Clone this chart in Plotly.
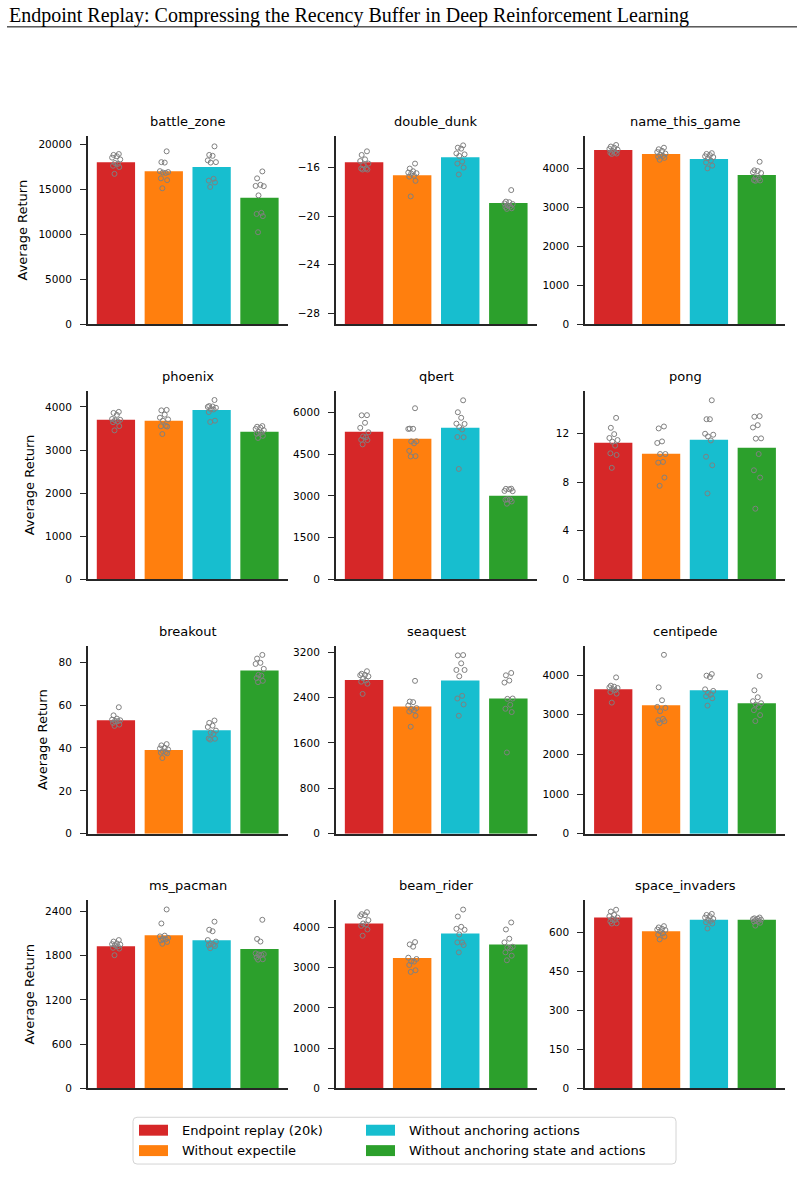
import plotly.graph_objects as go

W, H = 804, 1178

GAMES = ["battle_zone", "double_dunk", "name_this_game",
         "phoenix", "qbert", "pong",
         "breakout", "seaquest", "centipede",
         "ms_pacman", "beam_rider", "space_invaders"]
METHODS = ["Endpoint replay (20k)", "Without expectile",
           "Without anchoring actions", "Without anchoring state and actions"]
COLORS = ["#d62728", "#ff7f0e", "#17becf", "#2ca02c"]

# ---- bar heights (mean return per method) ----
battle_zone_means = [18000, 17000, 17450, 14050]
double_dunk_means = [-15.56, -16.63, -15.15, -18.92]
name_this_game_means = [4468, 4366, 4238, 3830]
phoenix_means = [3700, 3677, 3931, 3423]
qbert_means = [5308, 5058, 5451, 3006]
pong_means = [11.26, 10.36, 11.51, 10.85]
breakout_means = [52.9, 39.0, 48.3, 76.1]
seaquest_means = [2711, 2244, 2700, 2384]
centipede_means = [3640, 3238, 3615, 3289]
ms_pacman_means = [1928, 2076, 2009, 1888]
beam_rider_means = [4099, 3241, 3852, 3579]
space_invaders_means = [656, 603, 648, 648]

# ---- individual runs (one list per method) ----
battle_zone_runs = [
    [18900, 18800, 18650, 18500, 18300, 17900, 17800, 17600, 17450, 16700],
    [19200, 18000, 17950, 17000, 16900, 16850, 16800, 16200, 16000, 15100],
    [19750, 18800, 18700, 18200, 18000, 17950, 16150, 15950, 15750, 15250],
    [16970, 16200, 15480, 15360, 15330, 14310, 12370, 12250, 12010, 10220]]
double_dunk_runs = [
    [-14.66, -14.96, -15.32, -15.46, -15.67, -15.81, -16.08, -16.08, -16.16, -16.16],
    [-15.67, -16.08, -16.3, -16.41, -16.46, -16.5, -16.68, -16.74, -17.09, -18.37],
    [-14.17, -14.36, -14.44, -14.83, -14.91, -15.04, -15.51, -15.67, -16.0, -16.57],
    [-17.85, -18.8, -18.85, -18.95, -19.0, -19.1, -19.2, -19.25, -19.35, -19.4]]
name_this_game_runs = [
    [4600, 4560, 4530, 4500, 4480, 4450, 4420, 4400, 4380, 4370],
    [4530, 4490, 4450, 4420, 4380, 4350, 4320, 4300, 4270, 4220],
    [4390, 4370, 4340, 4310, 4290, 4260, 4200, 4150, 4070, 4000],
    [4170, 3950, 3930, 3900, 3880, 3770, 3740, 3700, 3690, 3680]]
phoenix_runs = [
    [3885, 3860, 3815, 3720, 3700, 3690, 3660, 3645, 3555, 3455],
    [3930, 3920, 3820, 3750, 3710, 3680, 3560, 3550, 3545, 3370],
    [4160, 4020, 4010, 4000, 3980, 3950, 3940, 3880, 3680, 3650],
    [3555, 3540, 3520, 3490, 3460, 3420, 3400, 3380, 3330, 3280]]
qbert_runs = [
    [5905, 5900, 5630, 5450, 5290, 5140, 5110, 5020, 5010, 4855],
    [6155, 5420, 5415, 5410, 4965, 4960, 4890, 4620, 4430, 4420],
    [6440, 6010, 5810, 5600, 5590, 5475, 5390, 5120, 5110, 3970],
    [3260, 3255, 3240, 3180, 3170, 2880, 2870, 2860, 2800, 2720]]
pong_runs = [
    [13.31, 12.49, 11.97, 11.65, 11.48, 11.35, 11.02, 10.39, 10.25, 9.19],
    [12.6, 12.44, 11.37, 11.24, 10.33, 10.33, 9.68, 9.62, 8.39, 7.71],
    [14.76, 13.2, 13.2, 12.0, 11.92, 11.78, 11.45, 10.11, 9.4, 7.08],
    [13.45, 13.4, 12.71, 12.52, 11.62, 11.6, 10.33, 8.99, 8.39, 5.82]]
breakout_runs = [
    [59.0, 55.2, 53.7, 53.2, 52.9, 52.6, 52.5, 51.7, 50.9, 50.3],
    [41.8, 41.2, 40.1, 39.8, 39.3, 38.5, 38.1, 37.8, 37.5, 35.3],
    [52.8, 51.7, 50.4, 49.8, 48.1, 47.2, 46.6, 44.4, 44.3, 43.9],
    [83.4, 81.7, 79.7, 79.2, 76.9, 74.1, 73.7, 72.6, 71.3, 70.7]]
seaquest_runs = [
    [2865, 2820, 2800, 2795, 2775, 2740, 2700, 2680, 2645, 2465],
    [2695, 2330, 2320, 2260, 2215, 2200, 2175, 2155, 2080, 1887],
    [3150, 3144, 3004, 2887, 2887, 2776, 2431, 2384, 2279, 2080],
    [2834, 2793, 2700, 2665, 2384, 2378, 2273, 2203, 2145, 1432]]
centipede_runs = [
    [3941, 3732, 3707, 3690, 3674, 3649, 3615, 3573, 3531, 3305],
    [4510, 3690, 3364, 3197, 3172, 3088, 2895, 2862, 2837, 2787],
    [4025, 3985, 3950, 3640, 3600, 3550, 3505, 3465, 3415, 3230],
    [3975, 3615, 3440, 3340, 3290, 3255, 3200, 3115, 2990, 2840]]
ms_pacman_runs = [
    [2010, 1990, 1965, 1955, 1950, 1940, 1925, 1905, 1895, 1805],
    [2425, 2235, 2070, 2060, 2040, 2030, 2020, 2005, 1985, 1960],
    [2260, 2150, 2130, 2010, 1990, 1960, 1950, 1940, 1930, 1900],
    [2285, 2025, 1990, 1830, 1820, 1815, 1810, 1775, 1750, 1745]]
beam_rider_runs = [
    [4379, 4330, 4305, 4280, 4181, 4099, 4074, 4041, 3950, 3794],
    [3637, 3579, 3522, 3249, 3216, 3159, 3151, 3068, 2936, 2895],
    [4445, 4272, 4016, 3967, 3942, 3827, 3629, 3629, 3563, 3381],
    [4124, 3950, 3720, 3629, 3522, 3497, 3480, 3381, 3299, 3184]]
space_invaders_runs = [
    [686, 679, 666, 661, 656, 651, 647, 641, 634, 633],
    [623, 618, 613, 610, 608, 603, 595, 590, 583, 572],
    [670, 666, 661, 656, 651, 647, 643, 638, 633, 614],
    [656, 653, 651, 650, 648, 646, 643, 641, 636, 625]]

# fixed horizontal spread of the run markers around each bar
JITTER = [0.06, -0.05, 0.02, -0.08, 0.09, -0.02, 0.04, -0.06, 0.07, -0.03]

MEANS = [battle_zone_means, double_dunk_means, name_this_game_means,
         phoenix_means, qbert_means, pong_means,
         breakout_means, seaquest_means, centipede_means,
         ms_pacman_means, beam_rider_means, space_invaders_means]
RUNS = [battle_zone_runs, double_dunk_runs, name_this_game_runs,
        phoenix_runs, qbert_runs, pong_runs,
        breakout_runs, seaquest_runs, centipede_runs,
        ms_pacman_runs, beam_rider_runs, space_invaders_runs]

# ---- axis settings (layout) ----
Y_RANGE = {"battle_zone": (0, 20900), "double_dunk": (-28.9, -13.4),
           "name_this_game": (0, 4830), "phoenix": (0, 4376),
           "qbert": (0, 6785), "pong": (0, 15.55), "breakout": (0, 87.7),
           "seaquest": (0, 3315), "centipede": (0, 4740),
           "ms_pacman": (0, 2552), "beam_rider": (0, 4680),
           "space_invaders": (0, 723)}
Y_DTICK = {"battle_zone": 5000, "double_dunk": 4, "name_this_game": 1000,
           "phoenix": 1000, "qbert": 1500, "pong": 4, "breakout": 20,
           "seaquest": 800, "centipede": 1000, "ms_pacman": 600,
           "beam_rider": 1000, "space_invaders": 150}

COL_PX = [(87.7, 287.7), (335.7, 536.7), (585.0, 785.0)]
ROW_PX = [(136.7, 326.0), (392.7, 582.3), (649.0, 838.0), (904.7, 1094.0)]

FONT = "DejaVu Sans"
INK = "#262626"

fig = go.Figure()
layout = dict(width=W, height=H, margin=dict(l=0, r=0, t=0, b=0, pad=0),
              paper_bgcolor="white", plot_bgcolor="white", showlegend=False,
              font=dict(family=FONT, size=10, color="black"),
              bargap=0.2)
annotations = []
shapes = []

for i, game in enumerate(GAMES):
    r, c = divmod(i, 3)
    k = i + 1
    xa = "x" if k == 1 else f"x{k}"
    ya = "y" if k == 1 else f"y{k}"
    x0, x1 = COL_PX[c]
    top, bot = ROW_PX[r]
    lo, hi = Y_RANGE[game]
    means = MEANS[i]
    fig.add_trace(go.Bar(
        x=list(range(len(METHODS))), y=[m - lo for m in means], base=lo,
        width=0.8, marker=dict(color=COLORS, line=dict(width=0)),
        xaxis=xa, yaxis=ya, hoverinfo="skip"))
    xs, ys = [], []
    for j, runs in enumerate(RUNS[i]):
        for n, v in enumerate(runs):
            xs.append(j + JITTER[n % len(JITTER)])
            ys.append(v)
    fig.add_trace(go.Scatter(
        x=xs, y=ys, mode="markers", xaxis=xa, yaxis=ya, cliponaxis=False,
        marker=dict(symbol="circle", size=5, color="rgba(0,0,0,0)",
                    line=dict(color="#808080", width=1)),
        hoverinfo="skip"))
    xkey = "xaxis" if k == 1 else f"xaxis{k}"
    ykey = "yaxis" if k == 1 else f"yaxis{k}"
    layout[xkey] = dict(domain=[x0 / W, x1 / W], anchor=ya, range=[-0.59, 3.59],
                        showline=True, linecolor=INK, linewidth=1.5,
                        showticklabels=False, ticks="", showgrid=False,
                        zeroline=False, fixedrange=True)
    ydict = dict(domain=[1 - bot / H, 1 - top / H], anchor=xa, range=[lo, hi],
                 tick0=0, dtick=Y_DTICK[game], showline=True, linecolor=INK,
                 linewidth=1.5, ticks="outside", ticklen=6, tickwidth=1.25,
                 tickcolor=INK, showgrid=False, zeroline=False,
                 exponentformat="none", separatethousands=False,
                 tickfont=dict(family=FONT, size=10.5, color="black"),
                 ticklabelstandoff=6, fixedrange=True)
    if hi >= 10000:
        ydict["tickformat"] = "d"
    if c == 0:
        ydict["title"] = dict(text="Average Return", standoff=8,
                              font=dict(family=FONT, size=13, color="black"))
    layout[ykey] = ydict
    annotations.append(dict(text=game, x=(x0 + x1) / 2 / W, y=1 - (top - 5) / H,
                            xref="paper", yref="paper", xanchor="center",
                            yanchor="bottom", showarrow=False,
                            font=dict(family=FONT, size=13, color="black")))

# figure title and rule
annotations.append(dict(
    text="Endpoint Replay: Compressing the Recency Buffer in Deep Reinforcement Learning",
    x=7 / W, y=1 - 2 / H, xref="paper", yref="paper", xanchor="left",
    yanchor="top", showarrow=False,
    font=dict(family="Liberation Serif", size=20, color="black")))
shapes.append(dict(type="line", xref="paper", yref="paper",
                   x0=7 / W, x1=797 / W, y0=1 - 27 / H, y1=1 - 27 / H,
                   line=dict(color="black", width=1)))

# legend (two columns, column-wise like the original)
LX0, LX1, LY0, LY1, RAD = 133.0, 676.0, 1123.0, 1170.0, 4.0
px = lambda v: v / W
py = lambda v: 1 - v / H
path = (f"M {px(LX0 + RAD)},{py(LY0)} L {px(LX1 - RAD)},{py(LY0)} "
        f"Q {px(LX1)},{py(LY0)} {px(LX1)},{py(LY0 + RAD)} "
        f"L {px(LX1)},{py(LY1 - RAD)} Q {px(LX1)},{py(LY1)} {px(LX1 - RAD)},{py(LY1)} "
        f"L {px(LX0 + RAD)},{py(LY1)} Q {px(LX0)},{py(LY1)} {px(LX0)},{py(LY1 - RAD)} "
        f"L {px(LX0)},{py(LY0 + RAD)} Q {px(LX0)},{py(LY0)} {px(LX0 + RAD)},{py(LY0)} Z")
shapes.append(dict(type="path", path=path, xref="paper", yref="paper",
                   line=dict(color="#d4d4d4", width=1), fillcolor="white"))
SW_X = [139.0, 366.0]
ROW_Y = [1136.0, 1156.5]
for m, (name, col) in enumerate(zip(METHODS, COLORS)):
    cc, rr = divmod(m, 2)
    sx = SW_X[cc]
    cy = ROW_Y[rr]
    shapes.append(dict(type="rect", xref="paper", yref="paper",
                       x0=px(sx), x1=px(sx + 29), y0=py(cy + 5.5), y1=py(cy - 5.5),
                       line=dict(width=0), fillcolor=col))
    annotations.append(dict(text=name, x=px(sx + 41), y=py(cy), xref="paper",
                            yref="paper", xanchor="left", yanchor="middle",
                            showarrow=False,
                            font=dict(family=FONT, size=13, color="black")))

layout["annotations"] = annotations
layout["shapes"] = shapes
fig.update_layout(**layout)
fig.write_html("out.html", config={"displayModeBar": False},
               post_script="document.body.style.margin='0';"
                           "document.body.style.overflow='hidden';")
